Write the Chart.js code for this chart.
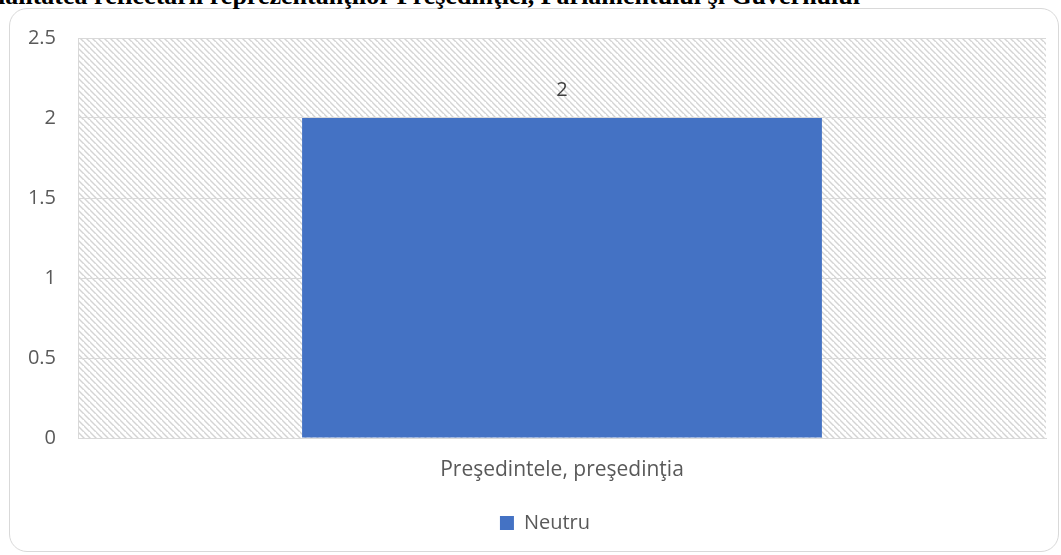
<!DOCTYPE html>
<html>
<head>
<meta charset="utf-8">
<script src="https://cdn.jsdelivr.net/npm/chart.js@4.4.1/dist/chart.umd.min.js"></script>
<style>
  html, body { margin: 0; padding: 0; background: #fff; overflow: hidden; }
  #wrap { position: relative; width: 1061px; height: 555px; overflow: hidden; }
  #frame { position: absolute; left: 9px; top: 8px; width: 1050px; height: 544px;
           border: 1.5px solid #d9d9d9; border-radius: 18px; box-sizing: border-box; }
  #title { position: absolute; right: 201px; top: -17px; white-space: nowrap;
           font: bold 26px "Liberation Serif", "Times New Roman", serif; line-height: 26px; color: #000; }
  #c { position: absolute; left: 0; top: 0; }
</style>
</head>
<body>
<div id="wrap">
  <div id="frame"></div>
  <div id="title">Imparţialitatea reflectării reprezentanţilor Preşedinţiei, Parlamentului şi Guvernului</div>
  <canvas id="c" width="1061" height="555"></canvas>
</div>
<script>
const categories = ["Preşedintele, preşedinţia"];
const seriesName = "Neutru";
const seriesValues = [2];
const yTicks = [0, 0.5, 1, 1.5, 2, 2.5];
const yTickLabels = ["0", "0.5", "1", "1.5", "2", "2.5"];

function makeHatch() {
  const s = 6;
  const p = document.createElement('canvas');
  p.width = s; p.height = s;
  const g = p.getContext('2d');
  g.strokeStyle = '#d4d4d4';
  g.lineWidth = 1.4;
  g.beginPath();
  g.moveTo(-1, -1); g.lineTo(s + 1, s + 1);
  g.moveTo(-s - 1, -1); g.lineTo(1, s + 1);
  g.moveTo(s - 1, -s - 1); g.lineTo(2 * s + 1, s + 1);
  g.stroke();
  return p;
}

const hatchPlugin = {
  id: 'hatch',
  beforeDraw(chart) {
    const { ctx, chartArea: a } = chart;
    ctx.save();
    ctx.fillStyle = ctx.createPattern(makeHatch(), 'repeat');
    ctx.fillRect(a.left, a.top, a.right - a.left, a.bottom - a.top);
    ctx.restore();
  }
};

const legendShift = {
  id: 'legendShift',
  afterLayout(chart) {
    if (chart.legend) {
      chart.legend.left += 22;
      chart.legend.right += 22;
    }
  }
};

const labelPlugin = {
  id: 'valLabels',
  afterDatasetsDraw(chart) {
    const { ctx } = chart;
    chart.data.datasets.forEach((ds, i) => {
      chart.getDatasetMeta(i).data.forEach((bar, j) => {
        ctx.save();
        ctx.font = '20px "Open Sans", sans-serif';
        ctx.fillStyle = '#404040';
        ctx.textAlign = 'center';
        ctx.textBaseline = 'middle';
        ctx.fillText(String(ds.data[j]), bar.x, bar.y - 28);
        ctx.restore();
      });
    });
  }
};

new Chart(document.getElementById('c'), {
  type: 'bar',
  data: {
    labels: categories,
    datasets: [{
      label: seriesName,
      data: seriesValues,
      backgroundColor: '#4472C4',
      borderWidth: 0,
      barPercentage: 0.537,
      categoryPercentage: 1.0
    }]
  },
  options: {
    responsive: false,
    animation: false,
    layout: { padding: { left: 0, right: 15, top: 38, bottom: 12 } },
    scales: {
      x: {
        grid: { display: false, drawTicks: false },
        border: { display: true, color: '#d9d9d9', width: 1 },
        ticks: { color: '#595959', font: { family: '"Open Sans", sans-serif', size: 21 }, padding: 19 },
        afterFit(s) { s.height = 65; }
      },
      y: {
        min: 0, max: 2.5,
        afterBuildTicks(s) { s.ticks = yTicks.map(v => ({ value: v })); },
        grid: { color: '#d9d9d9', lineWidth: 1, drawTicks: false },
        border: { display: true, color: '#d9d9d9', width: 1 },
        ticks: {
          color: '#595959', font: { family: '"Open Sans", sans-serif', size: 20 }, padding: 22,
          callback: (v) => yTickLabels[yTicks.indexOf(v)] ?? String(v)
        },
        afterFit(s) { s.width = 78; }
      }
    },
    plugins: {
      legend: {
        position: 'bottom',
        labels: {
          boxWidth: 14, boxHeight: 14, padding: 10,
          color: '#595959',
          font: { family: '"Open Sans", sans-serif', size: 20 }
        }
      },
      tooltip: { enabled: false }
    }
  },
  plugins: [hatchPlugin, legendShift, labelPlugin]
});
</script>
</body>
</html>
